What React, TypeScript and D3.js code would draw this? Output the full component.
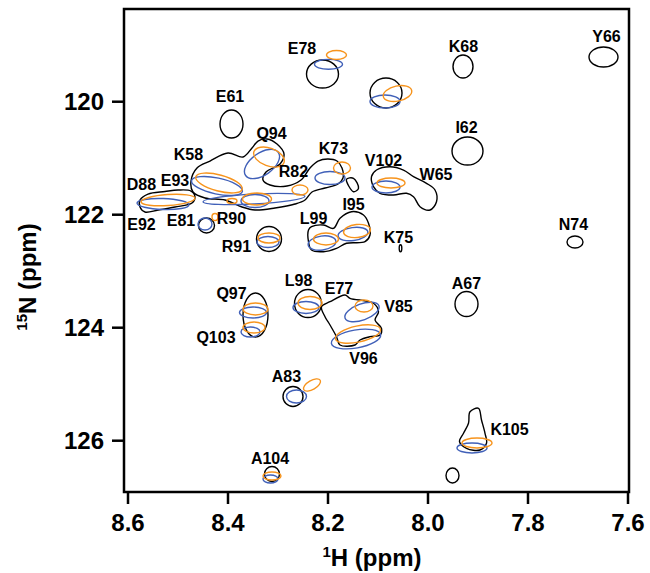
import React from 'react';
import * as d3 from 'd3';

// axis ticks
const X_TICKS = [8.6, 8.4, 8.2, 8.0, 7.8, 7.6];
const Y_TICKS = [120, 122, 124, 126];

// peaks as ellipses: [1H ppm, 15N ppm, 1H half-width, 15N half-width, tilt deg]
const blackPeaks = [
  [8.211, 119.51, 0.032, 0.248, 0], // E78
  [8.393, 120.395, 0.023, 0.248, 0], // E61
  [8.084, 119.846, 0.032, 0.265, 0],
  [7.93, 119.377, 0.02, 0.204, 0], // K68
  [7.649, 119.209, 0.029, 0.177, 0], // Y66
  [7.921, 120.873, 0.031, 0.248, 0], // I62
  [7.706, 122.483, 0.016, 0.106, 0], // N74
  [8.055, 122.595, 0.0026, 0.062, 0], // K75
  [8.318, 122.43, 0.025, 0.221, 0], // R91
  [8.443, 122.191, 0.016, 0.133, 0], // E81
  [7.923, 123.581, 0.023, 0.221, 0], // A67
  [8.24, 123.572, 0.027, 0.248, 0], // L98
  [8.345, 123.775, 0.025, 0.389, 0], // Q97 / Q103
  [8.27, 125.218, 0.02, 0.177, 0], // A83
  [8.312, 126.589, 0.015, 0.133, 0], // A104
  [7.951, 126.616, 0.013, 0.133, 0],
];

// irregular black contours, [1H, 15N] outlines
const blackContours = [
  // K58 / E93 / Q94 / R82 / K73 / R90 cluster
  [[8.474, 121.404], [8.462, 121.173], [8.436, 121.05], [8.4, 120.908], [8.37, 120.979], [8.352, 120.819],
   [8.34, 120.696], [8.322, 120.66], [8.302, 120.749], [8.288, 120.926], [8.296, 121.103], [8.324, 121.244],
   [8.33, 121.386], [8.316, 121.474], [8.282, 121.492], [8.254, 121.386], [8.236, 121.173], [8.22, 121.05],
   [8.2, 121.014], [8.182, 121.05], [8.172, 121.173], [8.17, 121.35], [8.18, 121.457], [8.206, 121.527],
   [8.232, 121.598], [8.246, 121.74], [8.266, 121.811], [8.306, 121.881], [8.346, 121.917], [8.372, 121.864],
   [8.406, 121.74], [8.446, 121.704], [8.47, 121.598]],
  // D88 / E92
  [[8.576, 121.74], [8.56, 121.634], [8.526, 121.589], [8.5, 121.563], [8.474, 121.581], [8.466, 121.687],
   [8.472, 121.793], [8.506, 121.864], [8.54, 121.917], [8.566, 121.952], [8.576, 121.864]],
  // V102 / W65
  [[8.113, 121.327], [8.103, 121.209], [8.076, 121.15], [8.049, 121.209], [8.029, 121.327], [8.003, 121.444],
   [7.986, 121.563], [7.983, 121.77], [7.996, 121.917], [8.016, 121.858], [8.029, 121.681], [8.043, 121.621],
   [8.069, 121.651], [8.096, 121.621], [8.109, 121.504]],
  // L99 / I95
  [[8.239, 122.271], [8.233, 122.212], [8.209, 122.182], [8.189, 122.241], [8.176, 122.064], [8.153, 121.947],
   [8.129, 122.005], [8.119, 122.152], [8.116, 122.359], [8.126, 122.478], [8.163, 122.506], [8.183, 122.595],
   [8.209, 122.655], [8.233, 122.625], [8.239, 122.478]],
  // E77 / V85 / V96
  [[8.213, 123.628], [8.196, 123.54], [8.166, 123.421], [8.156, 123.48], [8.109, 123.568], [8.099, 123.717],
   [8.106, 123.864], [8.093, 124.011], [8.096, 124.129], [8.116, 124.159], [8.136, 124.218], [8.146, 124.306],
   [8.176, 124.306], [8.183, 124.159], [8.196, 123.952], [8.206, 123.805]],
  // K105
  [[7.916, 125.487], [7.899, 125.427], [7.893, 125.634], [7.886, 125.869], [7.883, 126.046], [7.896, 126.165],
   [7.923, 126.135], [7.937, 126.018], [7.929, 125.869], [7.919, 125.692]],
  // small lozenge next to K73
  [[8.163, 121.373], [8.149, 121.356], [8.139, 121.533], [8.149, 121.593]],
];

const bluePeaks = [
  [8.199, 119.338, 0.028, 0.088, 0], // E78
  [8.086, 119.996, 0.03, 0.115, 0],
  [8.53, 121.811, 0.052, 0.097, 2], // D88
  [8.422, 121.492, 0.052, 0.142, 12], // E93
  [8.332, 121.103, 0.04, 0.195, -35], // Q94
  [8.348, 121.722, 0.102, 0.088, -3],
  [8.346, 121.758, 0.028, 0.115, 0], // R90
  [8.196, 121.35, 0.03, 0.115, 0], // K73
  [8.446, 122.165, 0.014, 0.106, 0], // E81
  [8.32, 122.483, 0.022, 0.097, 0], // R91
  [8.084, 121.51, 0.028, 0.106, 0], // V102
  [8.212, 122.501, 0.028, 0.124, -8], // L99
  [8.15, 122.342, 0.03, 0.115, -8], // I95
  [8.244, 123.642, 0.026, 0.106, 0], // L98
  [8.35, 123.731, 0.027, 0.097, 0], // Q97
  [8.355, 124.076, 0.019, 0.088, 0], // Q103
  [8.132, 123.722, 0.036, 0.142, -20], // V85
  [8.144, 124.2, 0.05, 0.159, -10], // V96
  [8.263, 125.218, 0.02, 0.115, 0], // A83
  [8.315, 126.678, 0.015, 0.071, 0], // A104
  [7.912, 126.129, 0.03, 0.088, 0], // K105
];

const orangePeaks = [
  [8.183, 119.173, 0.02, 0.08, 0], // E78
  [8.061, 119.855, 0.029, 0.133, -12],
  [8.52, 121.74, 0.054, 0.097, -4], // D88
  [8.418, 121.439, 0.048, 0.142, 15], // E93
  [8.318, 120.979, 0.032, 0.159, 20], // Q94
  [8.256, 121.563, 0.016, 0.088, 0], // R82
  [8.342, 121.722, 0.029, 0.106, 0], // R90
  [8.392, 121.758, 0.01, 0.044, 0],
  [8.426, 122.041, 0.006, 0.062, 0],
  [8.172, 121.173, 0.017, 0.106, 0], // K73
  [8.318, 122.412, 0.022, 0.088, 0], // R91
  [8.074, 121.439, 0.028, 0.088, 0], // V102
  [8.204, 122.43, 0.025, 0.106, 0], // L99
  [8.142, 122.288, 0.027, 0.115, -6], // I95
  [8.236, 123.563, 0.024, 0.115, 0], // L98
  [8.345, 123.669, 0.025, 0.106, 0], // Q97
  [8.348, 123.996, 0.022, 0.097, 0], // Q103
  [8.128, 123.616, 0.018, 0.106, 0], // V85
  [8.14, 124.112, 0.046, 0.142, -12], // V96
  [8.232, 125.014, 0.019, 0.08, -30], // A83
  [8.312, 126.625, 0.018, 0.071, 0], // A104
  [7.902, 126.041, 0.03, 0.088, 0], // K105
];

// residue labels [text, 1H, 15N]
const labels = [
  ['E78', 8.252, 119.05], ['E61', 8.396, 119.911], ['Q94', 8.313, 120.559], ['K58', 8.479, 120.926],
  ['K73', 8.189, 120.825], ['R82', 8.269, 121.239], ['E93', 8.506, 121.386], ['D88', 8.573, 121.474],
  ['E92', 8.573, 122.165], ['E81', 8.494, 122.106], ['R90', 8.393, 122.064], ['L99', 8.229, 122.064],
  ['I95', 8.149, 121.828], ['R91', 8.383, 122.566], ['V102', 8.089, 121.032], ['W65', 7.984, 121.297],
  ['K75', 8.059, 122.4], ['K68', 7.929, 119.027], ['Y66', 7.643, 118.85], ['I62', 7.923, 120.453],
  ['N74', 7.709, 122.182], ['A67', 7.923, 123.214], ['V85', 8.059, 123.616], ['K105', 7.837, 125.793],
  ['L98', 8.259, 123.156], ['E77', 8.178, 123.303], ['Q97', 8.393, 123.391], ['Q103', 8.424, 124.17],
  ['V96', 8.129, 124.542], ['A83', 8.283, 124.867], ['A104', 8.316, 126.312],
];

const FONT = 'Liberation Sans, Arial, Helvetica, sans-serif';
const BLUE = '#4060b8';
const ORANGE = '#f7941d';

const x = d3.scaleLinear().domain([8.608, 7.598]).range([124, 629]);
const y = d3.scaleLinear().domain([118.359, 126.908]).range([9, 492]);

const contourLine = d3.line<number[]>()
  .x(d => x(d[0]))
  .y(d => y(d[1]))
  .curve(d3.curveCatmullRomClosed.alpha(0.5));

const Peak = ({ p, color }) => {
  const [h, n, rh, rn, rot] = p;
  const cx = x(h), cy = y(n);
  const rx = Math.abs(x(h + rh) - cx);
  const ry = Math.abs(y(n + rn) - cy);
  return (
    <ellipse cx={cx} cy={cy} rx={rx} ry={ry} fill="none" stroke={color} strokeWidth={1.4}
      transform={`rotate(${rot} ${cx} ${cy})`} />
  );
};

export default function App() {
  const [x0, x1] = x.range();
  const [y0, y1] = y.range();
  return (
    <svg width={650} height={573} style={{ position: 'absolute', left: 0, top: 0 }} fontFamily={FONT}>
      <rect width={650} height={573} fill="#fff" />

      {blackContours.map((c, i) => (
        <path key={'bc' + i} d={contourLine(c)} fill="none" stroke="#000" strokeWidth={1.4} />
      ))}
      {blackPeaks.map((p, i) => <Peak key={'b' + i} p={p} color="#000" />)}
      {bluePeaks.map((p, i) => <Peak key={'u' + i} p={p} color={BLUE} />)}
      {orangePeaks.map((p, i) => <Peak key={'o' + i} p={p} color={ORANGE} />)}

      {labels.map(([t, h, n]) => (
        <text key={t} x={x(h)} y={y(n)} textAnchor="middle" dominantBaseline="central"
          fontSize={16} fontWeight="bold">{t}</text>
      ))}

      <rect x={x0} y={y0} width={x1 - x0} height={y1 - y0} fill="none" stroke="#000" strokeWidth={2.5} />

      {X_TICKS.map(t => (
        <g key={'xt' + t} transform={`translate(${x(t)},${y1})`}>
          <line y2={12} stroke="#000" strokeWidth={2.5} />
          <text y={39} textAnchor="middle" fontSize={24} fontWeight="bold">{d3.format('.1f')(t)}</text>
        </g>
      ))}
      {Y_TICKS.map(t => (
        <g key={'yt' + t} transform={`translate(${x0},${y(t)})`}>
          <line x2={-12} stroke="#000" strokeWidth={2.5} />
          <text x={-20} textAnchor="end" dominantBaseline="central" fontSize={24} fontWeight="bold">{t}</text>
        </g>
      ))}

      <text x={372} y={566} textAnchor="middle" fontSize={24} fontWeight="bold">
        <tspan fontSize={15} dy={-9}>1</tspan>
        <tspan dy={9}>H (ppm)</tspan>
      </text>
      <text transform="translate(36,277) rotate(-90)" textAnchor="middle" fontSize={24} fontWeight="bold">
        <tspan fontSize={15} dy={-9}>15</tspan>
        <tspan dy={9}>N (ppm)</tspan>
      </text>
    </svg>
  );
}
